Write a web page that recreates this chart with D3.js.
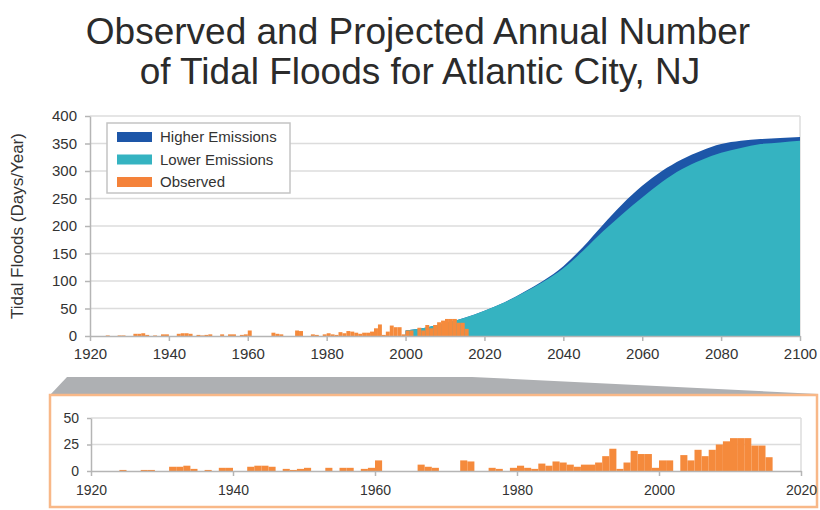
<!DOCTYPE html>
<html>
<head>
<meta charset="utf-8">
<script src="https://cdn.jsdelivr.net/npm/d3@7"></script>
<style>
  body { margin: 0; background: #fff; }
  svg text { font-family: "Liberation Sans", Arial, sans-serif; }
</style>
</head>
<body>
<div id="chart"></div>
<script>
// observed annual tidal floods, one value per year from 1920 to 2015
const obsStart = 1920;
const obsDays = [
  0, 0, 0, 0, 1, 0, 0, 1, 1, 0,
  0, 4, 4, 5, 2, 0, 1, 0, 3, 3,
  0, 0, 4, 5, 5, 4, 0, 2, 1, 2,
  3, 0, 0, 3, 0, 3, 3, 0, 2, 3,
  10, 0, 0, 0, 0, 0, 6, 4, 3, 0,
  0, 0, 10, 9, 0, 0, 3, 2, 0, 3,
  5, 3, 2, 7, 5, 9, 8, 6, 4, 6,
  6, 8, 14, 21, 2, 8, 19, 16, 16, 3,
  10, 10, 0, 15, 10, 20, 14, 20, 25, 28,
  31, 31, 31, 24, 24, 13
];
const obsYears = obsDays.map((d, i) => obsStart + i);

// projections
const projYears = [2000, 2005, 2010, 2015, 2020, 2025, 2030, 2035, 2040, 2045, 2050,
                   2055, 2060, 2065, 2070, 2075, 2080, 2085, 2090, 2095, 2100];
const lowerDays = [10, 15, 23, 33, 46, 61, 79, 99, 123, 155, 190,
                   222, 252, 280, 303, 320, 333, 342, 349, 352, 355];
const higherDays = [10, 15, 23, 33, 46, 61, 80, 101, 127, 162, 202,
                    240, 273, 300, 321, 337, 349, 355, 358, 360, 362];

const mainXTicks = [1920, 1940, 1960, 1980, 2000, 2020, 2040, 2060, 2080, 2100];
const mainYTicks = [0, 50, 100, 150, 200, 250, 300, 350, 400];
const insetXTicks = [1920, 1940, 1960, 1980, 2000, 2020];
const insetYTicks = [0, 25, 50];

const legendItems = [
  {name: "Higher Emissions", color: "#1d56a8"},
  {name: "Lower Emissions", color: "#35b3c1"},
  {name: "Observed", color: "#f4823a"}
];

const W = 820, H = 510;
const orange = "#f58a3c";
const gridColor = "#dcdcdc";
const axisColor = "#b5b5b5";

const svg = d3.select("#chart").append("svg")
  .attr("width", W)
  .attr("height", H);

// title
const title = svg.append("text")
  .attr("text-anchor", "middle")
  .attr("font-size", 37)
  .attr("fill", "#2b2b2b");
title.append("tspan").attr("x", 418).attr("y", 44).text("Observed and Projected Annual Number");
title.append("tspan").attr("x", 420).attr("y", 84).text("of Tidal Floods for Atlantic City, NJ");

// ---------- main chart ----------
const x = d3.scaleLinear().domain([1920, 2100]).range([90, 800]);
const y = d3.scaleLinear().domain([0, 400]).range([336, 116]);

const main = svg.append("g");

main.selectAll(".grid")
  .data(mainYTicks.slice(1))
  .enter().append("line")
  .attr("class", "grid")
  .attr("x1", x(1920)).attr("x2", x(2100))
  .attr("y1", d => y(d)).attr("y2", d => y(d))
  .attr("stroke", gridColor).attr("stroke-width", 1.5);

main.append("line")
  .attr("x1", x(2100)).attr("x2", x(2100))
  .attr("y1", y(400)).attr("y2", y(0))
  .attr("stroke", gridColor).attr("stroke-width", 1.5);

const projArea = d3.area()
  .x((d, i) => x(projYears[i]))
  .y0(y(0))
  .y1(d => y(d))
  .curve(d3.curveMonotoneX);

main.append("path")
  .datum(higherDays)
  .attr("d", projArea)
  .attr("fill", "#1d56a8");

main.append("path")
  .datum(lowerDays)
  .attr("d", projArea)
  .attr("fill", "#35b3c1");

main.selectAll(".obs")
  .data(obsDays)
  .enter().append("rect")
  .attr("class", "obs")
  .attr("x", (d, i) => x(obsYears[i]))
  .attr("width", x(1921) - x(1920))
  .attr("y", d => y(d))
  .attr("height", d => y(0) - y(d))
  .attr("fill", orange);

// main axes
const xAxis = main.append("g")
  .attr("transform", `translate(0,${y(0)})`)
  .call(d3.axisBottom(x).tickValues(mainXTicks).tickFormat(d3.format("d")).tickSize(5).tickSizeOuter(0));
const yAxis = main.append("g")
  .attr("transform", `translate(${x(1920)},0)`)
  .call(d3.axisLeft(y).tickValues(mainYTicks).tickSize(5).tickSizeOuter(0));

[xAxis, yAxis].forEach(a => {
  a.select(".domain").attr("stroke", axisColor).attr("stroke-width", 1.5);
  a.selectAll(".tick line").attr("stroke", axisColor).attr("stroke-width", 1.5);
  a.selectAll(".tick text")
    .attr("fill", "#333")
    .attr("font-size", 15)
    .attr("font-family", "'DejaVu Sans', sans-serif");
});
xAxis.selectAll(".tick text").attr("dy", "1.0em");
yAxis.selectAll(".tick text").attr("x", -13);

svg.append("text")
  .attr("transform", "translate(23,226) rotate(-90)")
  .attr("text-anchor", "middle")
  .attr("font-size", 17)
  .attr("fill", "#333")
  .text("Tidal Floods (Days/Year)");

// legend
const legend = svg.append("g");
legend.append("rect")
  .attr("x", 107).attr("y", 123)
  .attr("width", 183).attr("height", 70)
  .attr("fill", "#fff")
  .attr("stroke", "#c4c4c4")
  .attr("stroke-width", 1.5);
const li = legend.selectAll(".li")
  .data(legendItems)
  .enter().append("g")
  .attr("transform", (d, i) => `translate(117,${137 + i * 22.5})`);
li.append("rect")
  .attr("x", 0).attr("y", -5)
  .attr("width", 35).attr("height", 10)
  .attr("fill", d => d.color);
li.append("text")
  .attr("x", 43).attr("y", 5)
  .attr("font-size", 15)
  .attr("fill", "#333")
  .text(d => d.name);

// ---------- zoom connector and inset ----------
svg.append("path")
  .attr("d", "M50,395 L67,377 L472,377 L818,394 L818,395 Z")
  .attr("fill", "#aeb0b3");

svg.append("rect")
  .attr("x", 50).attr("y", 395)
  .attr("width", 767).attr("height", 112)
  .attr("fill", "#fff")
  .attr("stroke", "#f8b888")
  .attr("stroke-width", 2.5);

const xi = d3.scaleLinear().domain([1920, 2020]).range([91, 801]);
const yi = d3.scaleLinear().domain([0, 50]).range([471, 418]);

const inset = svg.append("g");

inset.selectAll(".igrid")
  .data(insetYTicks.slice(1))
  .enter().append("line")
  .attr("x1", xi(1920)).attr("x2", xi(2020))
  .attr("y1", d => yi(d)).attr("y2", d => yi(d))
  .attr("stroke", gridColor).attr("stroke-width", 1.5);

inset.append("line")
  .attr("x1", xi(2020)).attr("x2", xi(2020))
  .attr("y1", yi(50)).attr("y2", yi(0))
  .attr("stroke", gridColor).attr("stroke-width", 1.5);

inset.selectAll(".iobs")
  .data(obsDays)
  .enter().append("rect")
  .attr("x", (d, i) => xi(obsYears[i]))
  .attr("width", xi(1921) - xi(1920))
  .attr("y", d => yi(d))
  .attr("height", d => yi(0) - yi(d))
  .attr("fill", orange);

const xiAxis = inset.append("g")
  .attr("transform", `translate(0,${yi(0)})`)
  .call(d3.axisBottom(xi).tickValues(insetXTicks).tickFormat(d3.format("d")).tickSize(5).tickSizeOuter(0));
const yiAxis = inset.append("g")
  .attr("transform", `translate(${xi(1920)},0)`)
  .call(d3.axisLeft(yi).tickValues(insetYTicks).tickSize(4).tickSizeOuter(0));

[xiAxis, yiAxis].forEach(a => {
  a.select(".domain").attr("stroke", axisColor).attr("stroke-width", 1.5);
  a.selectAll(".tick line").attr("stroke", axisColor).attr("stroke-width", 1.5);
  a.selectAll(".tick text")
    .attr("fill", "#333")
    .attr("font-size", 14);
});
xiAxis.selectAll(".tick text").attr("dy", "1.15em");
yiAxis.selectAll(".tick text").attr("x", -12);
</script>
</body>
</html>
